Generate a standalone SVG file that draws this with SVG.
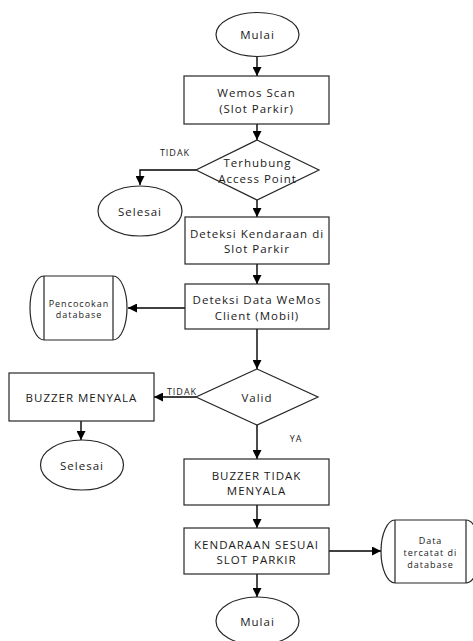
<svg xmlns="http://www.w3.org/2000/svg" width="473" height="641" viewBox="0 0 473 641">
<style>
.shape{fill:#fff;stroke:#262626;stroke-width:1.2}
.t{font-family:"Open Sans","Liberation Sans",sans-serif;font-size:11.5px;letter-spacing:1px;fill:#1a1a1a;text-anchor:middle}
.s{font-family:"Open Sans","Liberation Sans",sans-serif;font-size:9px;letter-spacing:1px;fill:#1a1a1a;text-anchor:middle}
.c{fill:none;stroke:#000;stroke-width:1.4}
</style>
<defs>
<marker id="ah" viewBox="0 0 10 10" refX="10" refY="5" markerWidth="9" markerHeight="9" markerUnits="userSpaceOnUse" orient="auto">
<path d="M0,0 L10,5 L0,10 Z" fill="#000"/>
</marker>
</defs>
<g id="connectors">
<path class="c" d="M257,56 V76" marker-end="url(#ah)"/>
<path class="c" d="M257,124 V140" marker-end="url(#ah)"/>
<path class="c" d="M196,170 H140 V185" marker-end="url(#ah)"/>
<path class="c" d="M257,200 V217" marker-end="url(#ah)"/>
<path class="c" d="M257,264 V284" marker-end="url(#ah)"/>
<path class="c" d="M185,308 H128" marker-end="url(#ah)"/>
<path class="c" d="M257,329 V369" marker-end="url(#ah)"/>
<path class="c" d="M196,397 H154" marker-end="url(#ah)"/>
<path class="c" d="M81,421 V440" marker-end="url(#ah)"/>
<path class="c" d="M257,425 V459" marker-end="url(#ah)"/>
<path class="c" d="M257,505 V528" marker-end="url(#ah)"/>
<path class="c" d="M329,551 H381" marker-end="url(#ah)"/>
<path class="c" d="M257,574 V597" marker-end="url(#ah)"/>
<text class="s" x="175" y="156">TIDAK</text>
<text class="s" x="182" y="395">TIDAK</text>
<text class="s" x="296" y="442">YA</text>
</g>
<g id="start">
<ellipse class="shape" cx="257.5" cy="34.5" rx="41.5" ry="22"/>
<text class="t" x="257.5" y="38.5">Mulai</text>
</g>
<g id="wemos-scan">
<rect class="shape" x="184" y="76" width="145" height="48"/>
<text class="t" x="256.5" y="97">Wemos Scan</text>
<text class="t" x="256.5" y="112.5">(Slot Parkir)</text>
</g>
<g id="terhubung">
<polygon class="shape" points="257,140 319,170 257,200 196,170"/>
<text class="t" x="257.5" y="166.5">Terhubung</text>
<text class="t" x="257.5" y="182.5">Access Point</text>
</g>
<g id="selesai-1">
<ellipse class="shape" cx="140" cy="211" rx="42" ry="25"/>
<text class="t" x="140" y="215.5">Selesai</text>
</g>
<g id="deteksi-kendaraan">
<rect class="shape" x="185" y="217" width="144" height="47"/>
<text class="t" x="257" y="237.5">Deteksi Kendaraan di</text>
<text class="t" x="257" y="252.5">Slot Parkir</text>
</g>
<g id="deteksi-data">
<rect class="shape" x="185" y="284" width="144" height="45"/>
<text class="t" x="257" y="304">Deteksi Data WeMos</text>
<text class="t" x="257" y="319.5">Client (Mobil)</text>
</g>
<g id="pencocokan">
<path class="shape" d="M44,276 H113 A14,32 0 0 1 113,340 H44 A14,32 0 0 1 44,276 Z"/>
<path class="shape" d="M44,276 V340 M113,276 V340"/>
<text class="s" x="79" y="306.5">Pencocokan</text>
<text class="s" x="79" y="318">database</text>
</g>
<g id="valid">
<polygon class="shape" points="257,369 318,397 257,425 196,397"/>
<text class="t" x="257" y="401.5">Valid</text>
</g>
<g id="buzzer-menyala">
<rect class="shape" x="9" y="373" width="145" height="48"/>
<text class="t" x="81.5" y="401.5">BUZZER MENYALA</text>
</g>
<g id="selesai-2">
<ellipse class="shape" cx="82" cy="465" rx="41.5" ry="25"/>
<text class="t" x="82" y="470">Selesai</text>
</g>
<g id="buzzer-tidak">
<rect class="shape" x="184" y="459" width="145" height="46"/>
<text class="t" x="256.5" y="479.5">BUZZER TIDAK</text>
<text class="t" x="256.5" y="495">MENYALA</text>
</g>
<g id="kendaraan-sesuai">
<rect class="shape" x="184" y="528" width="145" height="46"/>
<text class="t" x="256.5" y="548.5">KENDARAAN SESUAI</text>
<text class="t" x="256.5" y="563.5">SLOT PARKIR</text>
</g>
<g id="data-tercatat">
<path class="shape" d="M395,520 H466 A14,31.5 0 0 1 466,583 H395 A14,31.5 0 0 1 395,520 Z"/>
<path class="shape" d="M395,520 V583 M466,520 V583"/>
<text class="s" x="430.5" y="543.5">Data</text>
<text class="s" x="430.5" y="555.5">tercatat di</text>
<text class="s" x="430.5" y="567.5">database</text>
</g>
<g id="end">
<ellipse class="shape" cx="257.5" cy="621" rx="41.5" ry="24"/>
<text class="t" x="257.5" y="625.5">Mulai</text>
</g>
</svg>
